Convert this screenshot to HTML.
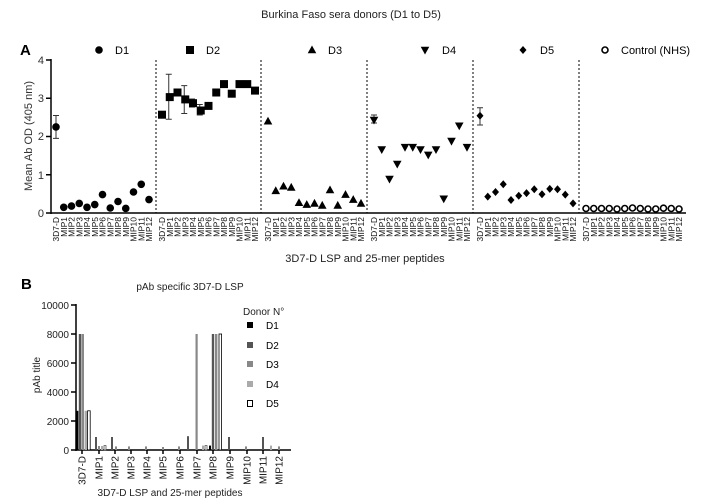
<!DOCTYPE html>
<html><head><meta charset="utf-8"><style>
html,body{margin:0;padding:0;background:#fff;}
svg{display:block;font-family:"Liberation Sans",Arial,sans-serif;}
</style></head><body>
<svg width="701" height="500" viewBox="0 0 701 500" xmlns="http://www.w3.org/2000/svg">
<defs>
<circle id="c" r="3.8" fill="#000"/>
<rect id="s" x="-4" y="-4" width="8" height="8" fill="#000"/>
<polygon id="t" points="0,-4.5 4.3,3.3 -4.3,3.3" fill="#000"/>
<polygon id="v" points="0,4.5 4.3,-3.3 -4.3,-3.3" fill="#000"/>
<polygon id="d" points="0,-4 3.5,0 0,4 -3.5,0" fill="#000"/>
<circle id="o" r="3" fill="#fff" stroke="#000" stroke-width="1.6"/>
<g id="lab" font-size="8.5" fill="#111" text-anchor="end">
<text transform="translate(59,217) rotate(-90)">3D7-D</text>
<text transform="translate(66.75,217) rotate(-90)">MIP1</text>
<text transform="translate(74.5,217) rotate(-90)">MIP2</text>
<text transform="translate(82.25,217) rotate(-90)">MIP3</text>
<text transform="translate(90,217) rotate(-90)">MIP4</text>
<text transform="translate(97.75,217) rotate(-90)">MIP5</text>
<text transform="translate(105.5,217) rotate(-90)">MIP6</text>
<text transform="translate(113.25,217) rotate(-90)">MIP7</text>
<text transform="translate(121,217) rotate(-90)">MIP8</text>
<text transform="translate(128.75,217) rotate(-90)">MIP9</text>
<text transform="translate(136.5,217) rotate(-90)">MIP10</text>
<text transform="translate(144.25,217) rotate(-90)">MIP11</text>
<text transform="translate(152,217) rotate(-90)">MIP12</text>
</g>
</defs>

<text x="351" y="18" font-size="11" text-anchor="middle" fill="#222">Burkina Faso sera donors (D1 to D5)</text>
<text x="20" y="55" font-size="15" font-weight="bold">A</text>

<use href="#c" x="99" y="50"/><text x="115" y="54" font-size="11">D1</text>
<use href="#s" x="190" y="50"/><text x="206" y="54" font-size="11">D2</text>
<use href="#t" x="312" y="50"/><text x="328" y="54" font-size="11">D3</text>
<use href="#v" x="425" y="50"/><text x="442" y="54" font-size="11">D4</text>
<use href="#d" x="523" y="50"/><text x="540" y="54" font-size="11">D5</text>
<use href="#o" x="605" y="50"/><text x="621" y="54" font-size="11">Control (NHS)</text>

<g stroke="#000" stroke-width="1.5" fill="none">
<line x1="51" y1="59" x2="51" y2="214"/>
<line x1="51" y1="213" x2="686" y2="213"/>
<line x1="46" y1="60" x2="51" y2="60"/>
<line x1="46" y1="98.25" x2="51" y2="98.25"/>
<line x1="46" y1="136.5" x2="51" y2="136.5"/>
<line x1="46" y1="174.75" x2="51" y2="174.75"/>
<line x1="46" y1="213" x2="51" y2="213"/>
</g>
<g font-size="11" text-anchor="end" fill="#333">
<text x="44" y="64">4</text><text x="44" y="102">3</text><text x="44" y="140">2</text><text x="44" y="179">1</text><text x="44" y="217">0</text>
</g>
<text transform="translate(32,136) rotate(-90)" font-size="11" text-anchor="middle" fill="#333">Mean Ab OD (405 nm)</text>
<g stroke="#000" stroke-width="1" stroke-dasharray="2,2">
<line x1="156" y1="60" x2="156" y2="213"/>
<line x1="261" y1="60" x2="261" y2="213"/>
<line x1="367" y1="60" x2="367" y2="213"/>
<line x1="473" y1="60" x2="473" y2="213"/>
<line x1="579" y1="60" x2="579" y2="213"/>
</g>
<use href="#lab"/><use href="#lab" x="106"/><use href="#lab" x="212"/><use href="#lab" x="318"/><use href="#lab" x="424"/><use href="#lab" x="530"/>
<text x="365" y="262" font-size="11" text-anchor="middle" fill="#222">3D7-D LSP and 25-mer peptides</text>

<g stroke="#333" stroke-width="1" fill="none">
<path d="M56,138.4V115.5M53,138.4h6M53,115.5h6"/>
<path d="M168.75,119.3V74.2M165.75,119.3h6M165.75,74.2h6"/>
<path d="M184.25,113.5V85.6M181.25,113.5h6M181.25,85.6h6"/>
<path d="M192,107V99M189,107h6M189,99h6"/>
<path d="M199.75,115V104.5M196.75,115h6M196.75,104.5h6"/>
<path d="M374,123V115M371,123h6M371,115h6"/>
<path d="M480,125V107.8M477,125h6M477,107.8h6"/>
</g>

<g>
<use href="#c" x="56" y="126.9"/><use href="#c" x="63.75" y="207.3"/><use href="#c" x="71.5" y="206.1"/><use href="#c" x="79.25" y="203.4"/><use href="#c" x="87" y="207.3"/><use href="#c" x="94.75" y="204.6"/><use href="#c" x="102.5" y="194.6"/><use href="#c" x="110.25" y="208"/><use href="#c" x="118" y="201.5"/><use href="#c" x="125.75" y="208.4"/><use href="#c" x="133.5" y="192"/><use href="#c" x="141.25" y="184.3"/><use href="#c" x="149" y="199.6"/>
</g>
<g transform="translate(106,0)">
<use href="#s" x="56" y="114.7"/><use href="#s" x="63.75" y="97.1"/><use href="#s" x="71.5" y="92.5"/><use href="#s" x="79.25" y="99.4"/><use href="#s" x="87" y="103.2"/><use href="#s" x="94.75" y="110.5"/><use href="#s" x="102.5" y="105.9"/><use href="#s" x="110.25" y="92.5"/><use href="#s" x="118" y="84.1"/><use href="#s" x="125.75" y="93.7"/><use href="#s" x="133.5" y="84.1"/><use href="#s" x="141.25" y="84.1"/><use href="#s" x="149" y="90.6"/>
</g>
<g transform="translate(212,0)">
<use href="#t" x="56" y="121.2"/><use href="#t" x="63.75" y="190.8"/><use href="#t" x="71.5" y="186.2"/><use href="#t" x="79.25" y="187.4"/><use href="#t" x="87" y="202.7"/><use href="#t" x="94.75" y="204.6"/><use href="#t" x="102.5" y="203.4"/><use href="#t" x="110.25" y="205.4"/><use href="#t" x="118" y="190"/><use href="#t" x="125.75" y="205.4"/><use href="#t" x="133.5" y="194.6"/><use href="#t" x="141.25" y="199.6"/><use href="#t" x="149" y="203.4"/>
</g>
<g transform="translate(318,0)">
<use href="#v" x="56" y="120"/><use href="#v" x="63.75" y="149.5"/><use href="#v" x="71.5" y="179"/><use href="#v" x="79.25" y="164"/><use href="#v" x="87" y="147.2"/><use href="#v" x="94.75" y="147.2"/><use href="#v" x="102.5" y="149.5"/><use href="#v" x="110.25" y="154.9"/><use href="#v" x="118" y="149.5"/><use href="#v" x="125.75" y="198.8"/><use href="#v" x="133.5" y="141.1"/><use href="#v" x="141.25" y="125.8"/><use href="#v" x="149" y="147.2"/>
</g>
<g transform="translate(424,0)">
<use href="#d" x="56" y="115.8"/><use href="#d" x="63.75" y="196.6"/><use href="#d" x="71.5" y="192"/><use href="#d" x="79.25" y="184.3"/><use href="#d" x="87" y="200"/><use href="#d" x="94.75" y="195.8"/><use href="#d" x="102.5" y="193.1"/><use href="#d" x="110.25" y="189.3"/><use href="#d" x="118" y="194.3"/><use href="#d" x="125.75" y="188.9"/><use href="#d" x="133.5" y="189.3"/><use href="#d" x="141.25" y="194.6"/><use href="#d" x="149" y="203.4"/>
</g>
<g transform="translate(530,0)">
<use href="#o" x="56" y="208.5"/><use href="#o" x="63.75" y="208.5"/><use href="#o" x="71.5" y="208.5"/><use href="#o" x="79.25" y="208.5"/><use href="#o" x="87" y="209"/><use href="#o" x="94.75" y="208.5"/><use href="#o" x="102.5" y="208"/><use href="#o" x="110.25" y="208.5"/><use href="#o" x="118" y="209"/><use href="#o" x="125.75" y="209"/><use href="#o" x="133.5" y="208.2"/><use href="#o" x="141.25" y="208.5"/><use href="#o" x="149" y="209"/>
</g>

<text x="21" y="289" font-size="15" font-weight="bold">B</text>
<text x="190" y="290" font-size="10" text-anchor="middle" fill="#222">pAb specific 3D7-D LSP</text>
<g stroke="#000" stroke-width="1.5" fill="none">
<line x1="76" y1="304" x2="76" y2="451"/>
<line x1="76" y1="450" x2="291" y2="450"/>
<path d="M71,305h5M71,334h5M71,363h5M71,392h5M71,421h5M71,450h5"/>
<path d="M82,450v4M99,450v4M115,450v4M131,450v4M147,450v4M163,450v4M180,450v4M197,450v4M213,450v4M230,450v4M247,450v4M263,450v4M279,450v4"/>
</g>
<g font-size="10" text-anchor="end" fill="#222">
<text x="69" y="309">10000</text><text x="69" y="338">8000</text><text x="69" y="367">6000</text><text x="69" y="396">4000</text><text x="69" y="425">2000</text><text x="69" y="454">0</text>
</g>
<text transform="translate(40,375) rotate(-90)" font-size="10" text-anchor="middle" fill="#222">pAb title</text>
<g font-size="10" text-anchor="end" fill="#111">
<text transform="translate(85.5,456) rotate(-90)">3D7-D</text>
<text transform="translate(102.5,456) rotate(-90)">MIP1</text>
<text transform="translate(118.5,456) rotate(-90)">MIP2</text>
<text transform="translate(134.5,456) rotate(-90)">MIP3</text>
<text transform="translate(150.5,456) rotate(-90)">MIP4</text>
<text transform="translate(166.5,456) rotate(-90)">MIP5</text>
<text transform="translate(183.5,456) rotate(-90)">MIP6</text>
<text transform="translate(200.5,456) rotate(-90)">MIP7</text>
<text transform="translate(216.5,456) rotate(-90)">MIP8</text>
<text transform="translate(233.5,456) rotate(-90)">MIP9</text>
<text transform="translate(250.5,456) rotate(-90)">MIP10</text>
<text transform="translate(266.5,456) rotate(-90)">MIP11</text>
<text transform="translate(282.5,456) rotate(-90)">MIP12</text>
</g>
<text x="170" y="496" font-size="10" text-anchor="middle" fill="#222">3D7-D LSP and 25-mer peptides</text>

<g stroke-width="0.8">
<rect x="76" y="410.8" width="2.4" height="39.2" fill="#000"/>
<rect x="78.8" y="334" width="2.4" height="116" fill="#555"/>
<rect x="81.6" y="334" width="2.4" height="116" fill="#888"/>
<rect x="84.6" y="410.8" width="2.4" height="39.2" fill="#aaa"/>
<rect x="87.6" y="410.8" width="2.6" height="39.2" fill="#fff" stroke="#000"/>
<rect x="95" y="437" width="2" height="13" fill="#555"/>
<rect x="98" y="446" width="2" height="4" fill="#888"/>
<rect x="101" y="446" width="2" height="4" fill="#aaa"/>
<rect x="104" y="445.6" width="2" height="4.4" fill="#fff" stroke="#555"/>
<rect x="111" y="437" width="2" height="13" fill="#555"/>
<rect x="115" y="446.4" width="2" height="3.6" fill="#888"/>
<rect x="128" y="446.4" width="2" height="3.6" fill="#888"/>
<rect x="145" y="446.4" width="2" height="3.6" fill="#888"/>
<rect x="162" y="447" width="2" height="3" fill="#888"/>
<rect x="178" y="446.4" width="2" height="3.6" fill="#888"/>
<rect x="187" y="436.2" width="2" height="13.8" fill="#555"/>
<rect x="195.5" y="334" width="2.2" height="116" fill="#888"/>
<rect x="202" y="445.6" width="2" height="4.4" fill="#aaa"/>
<rect x="205" y="445.6" width="2" height="4.4" fill="#fff" stroke="#555"/>
<rect x="209" y="445.6" width="2" height="4.4" fill="#000"/>
<rect x="211.8" y="334" width="2.4" height="116" fill="#555"/>
<rect x="215" y="334" width="2.4" height="116" fill="#888"/>
<rect x="219" y="334" width="2.6" height="116" fill="#fff" stroke="#000"/>
<rect x="228" y="437" width="2" height="13" fill="#555"/>
<rect x="245" y="446.4" width="2" height="3.6" fill="#888"/>
<rect x="262" y="437" width="2" height="13" fill="#555"/>
<rect x="270" y="445.6" width="2" height="4.4" fill="#aaa"/>
<rect x="278" y="446.4" width="2" height="3.6" fill="#888"/>
</g>

<text x="243" y="315" font-size="10" fill="#222">Donor N°</text>
<rect x="247" y="322" width="6" height="6" fill="#000"/><text x="266" y="329" font-size="10">D1</text>
<rect x="247" y="342" width="6" height="6" fill="#555"/><text x="266" y="349" font-size="10">D2</text>
<rect x="247" y="361" width="6" height="6" fill="#888"/><text x="266" y="368" font-size="10">D3</text>
<rect x="247" y="381" width="6" height="6" fill="#aaa"/><text x="266" y="388" font-size="10">D4</text>
<rect x="247.5" y="400.5" width="5" height="6" fill="#fff" stroke="#000"/><text x="266" y="407" font-size="10">D5</text>
</svg>
</body></html>
